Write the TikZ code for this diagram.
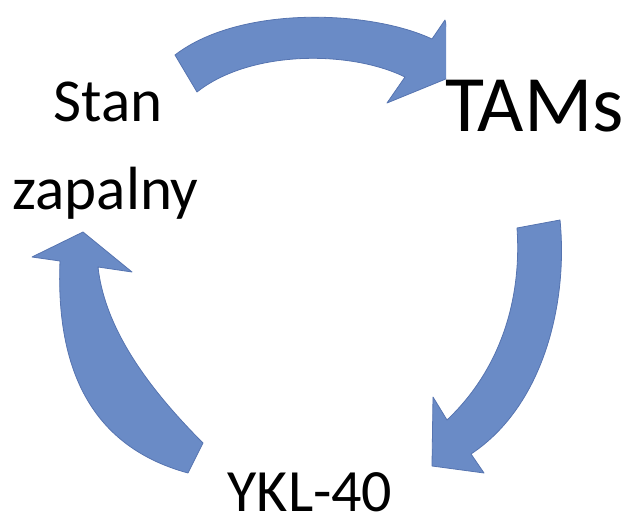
\documentclass[tikz,border=0pt]{standalone}
\usepackage{fontspec}
\setmainfont{Carlito}
\definecolor{arrowfill}{RGB}{106,139,198}
\definecolor{arrowedge}{RGB}{86,116,176}
\tikzset{
  cyclearrow/.style={fill=arrowfill, draw=arrowedge, line width=0.8pt, line join=round},
  label/.style={inner sep=0pt, text=black, anchor=base}
}
\begin{document}
\begin{tikzpicture}[x=1pt, y=-1pt]
  \useasboundingbox (0,0) rectangle (633,518);

  % upper arrow, its head cut by the label box on the right
  \begin{scope}
    \clip (0,0) rectangle (446,518);
    \path[cyclearrow] (175,55) .. controls (240,5) and (370,10) .. (432,39)
      -- (445,20) -- (458,74) -- (387,103) -- (405,77)
      .. controls (350,50) and (250,50) .. (197,92) -- cycle;
  \end{scope}

  % right arrow, curving down and to the left
  \path[cyclearrow] (517,228) -- (560,220)
    .. controls (568,300) and (545,405) .. (471,454)
    -- (484,473) -- (432,466) -- (433,397) -- (447,420)
    .. controls (500,370) and (522,300) .. (517,228) -- cycle;

  % left arrow, curving up
  \path[cyclearrow] (203,443)
    .. controls (150,390) and (105,330) .. (98,267)
    -- (132,272) -- (83,232) -- (32,257) -- (60,261)
    .. controls (56,360) and (85,445) .. (188,473) -- cycle;

  % labels
  \node[label, font=\fontsize{61}{88}\selectfont] (stan) at (108,122) {Stan};
  \node[label, font=\fontsize{61}{88}\selectfont] (zap) at (105.5,210) {zapalny};
  \node[label, font=\fontsize{80}{90}\selectfont] (tams) at (534.5,132) {TAMs};
  \node[label, font=\fontsize{60}{70}\selectfont] (ykl) at (310,512) {YKL-40};
\end{tikzpicture}
\end{document}
